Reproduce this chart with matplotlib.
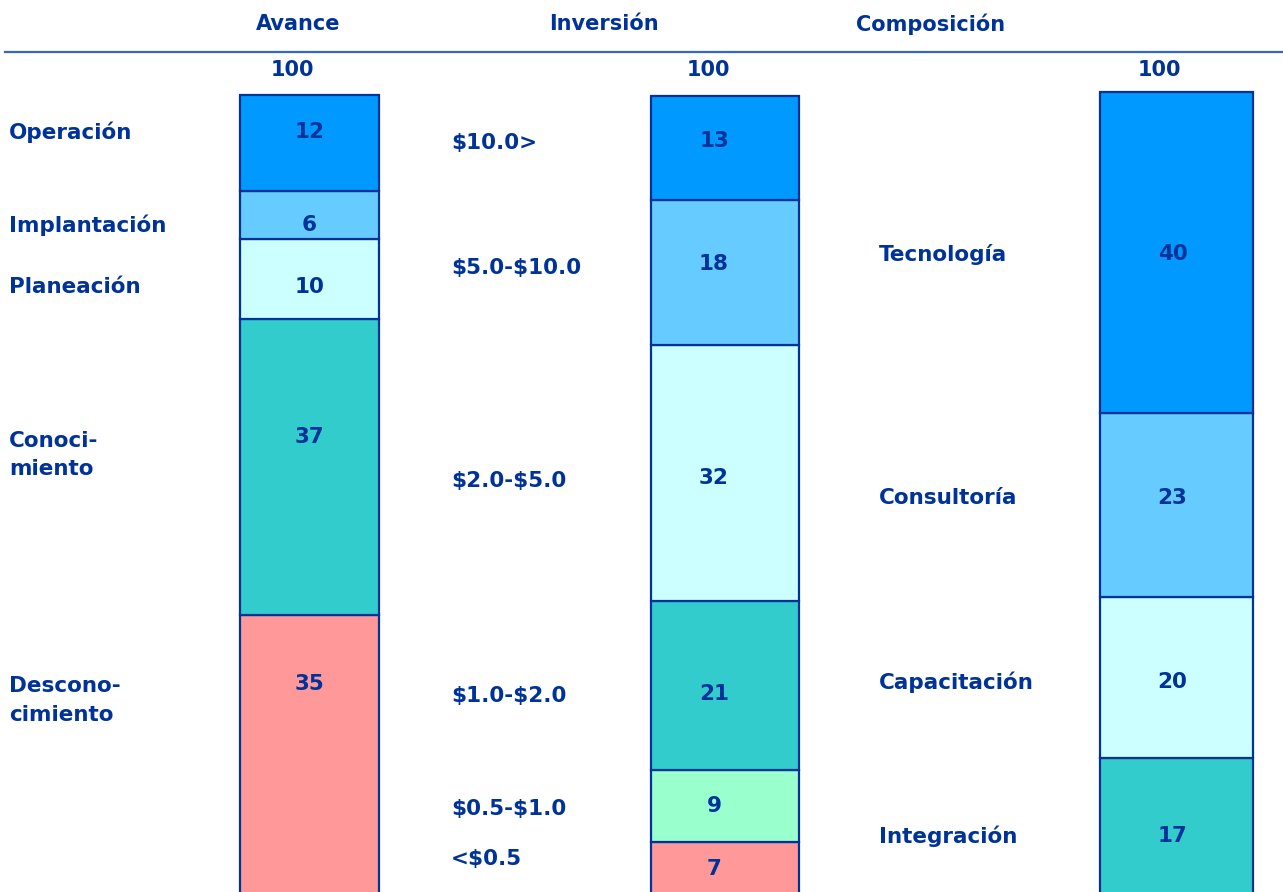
import matplotlib
matplotlib.use("Agg")
import matplotlib.pyplot as plt

plt.rcParams["text.parse_math"] = False

# data (listed top segment first)
avance_labels = ["Operación", "Implantación", "Planeación", "Conoci-\nmiento", "Descono-\ncimiento"]
avance_values = [12, 6, 10, 37, 35]
inversion_labels = ["$10.0>", "$5.0-$10.0", "$2.0-$5.0", "$1.0-$2.0", "$0.5-$1.0", "<$0.5"]
inversion_values = [13, 18, 32, 21, 9, 7]
composicion_labels = ["Tecnología", "Consultoría", "Capacitación", "Integración"]
composicion_values = [40, 23, 20, 17]
headers = ["Avance", "Inversión", "Composición"]
totals = [100, 100, 100]

NAVY = "#003399"
DARK_BLUE = "#0099FF"
LIGHT_BLUE = "#66CCFF"
PALE = "#CCFFFF"
TEAL = "#33CCCC"
MINT = "#99FFCC"
SALMON = "#FF9999"

W, H = 1283, 892
fig = plt.figure(figsize=(W / 100, H / 100), dpi=100)

# layout per bar: pixel top/bottom of the 0-100 scale, center x, width, label x,
# value-label x shift, colours, vertical nudges for value (vs) and category (cs) labels
bars = [
    dict(values=avance_values, labels=avance_labels, top=95, bot=895,
         x=309.5, w=139, lx=9, dx=0,
         colors=[DARK_BLUE, LIGHT_BLUE, PALE, TEAL, SALMON],
         vs=[1.4, -1.2, -1.0, 3.7, 8.85], cs=[1.4, -1.25, -1.0, 1.5, 6.85]),
    dict(values=inversion_values, labels=inversion_labels, top=96, bot=898,
         x=725, w=148, lx=451, dx=-11,
         colors=[DARK_BLUE, LIGHT_BLUE, PALE, TEAL, MINT, SALMON],
         vs=[0.9, 1.0, -0.6, -1.1, 0.0, 0.15], cs=[0.65, 0.6, -1.0, -1.35, -0.4, 1.4]),
    dict(values=composicion_values, labels=composicion_labels, top=92, bot=894,
         x=1176.5, w=153, lx=879, dx=-4,
         colors=[DARK_BLUE, LIGHT_BLUE, PALE, TEAL],
         vs=[-0.25, 0.85, -0.55, -1.3], cs=[-0.25, 0.85, -0.55, -1.3]),
]

fs = 15.5
for b, total in zip(bars, totals):
    ax = fig.add_axes([0, 1 - b["bot"] / H, 1, (b["bot"] - b["top"]) / H])
    ax.set_xlim(0, W)
    ax.set_ylim(0, 100)
    ax.axis("off")
    ax.patch.set_alpha(0)
    vals = b["values"][::-1]
    cols = b["colors"][::-1]
    labs = b["labels"][::-1]
    vs = b["vs"][::-1]
    cs = b["cs"][::-1]
    bottom = 0
    for v, c, lab, s1, s2 in zip(vals, cols, labs, vs, cs):
        ax.bar(b["x"], v, width=b["w"], bottom=bottom, color=c,
               edgecolor=NAVY, linewidth=1.6, clip_on=False)
        ax.text(b["x"] + b["dx"], bottom + v / 2 + s1, str(v), ha="center", va="center",
                color=NAVY, fontsize=fs, fontweight="bold")
        ax.text(b["lx"], bottom + v / 2 + s2, lab, ha="left", va="center", color=NAVY,
                fontsize=fs, fontweight="bold", linespacing=1.55)
        bottom += v
    fig.text((b["x"] - 17) / W, 1 - 70 / H, str(total), ha="center", va="center",
             color=NAVY, fontsize=15, fontweight="bold")

# headers and rule
for hx, h in zip([298, 604, 931], headers):
    fig.text(hx / W, 1 - 24 / H, h, ha="center", va="center", color=NAVY,
             fontsize=15, fontweight="bold")
fig.add_artist(plt.Line2D([5 / W, 1], [1 - 52 / H, 1 - 52 / H],
                          color="#3366CC", linewidth=1.6))

fig.savefig("out.png", dpi=100)
